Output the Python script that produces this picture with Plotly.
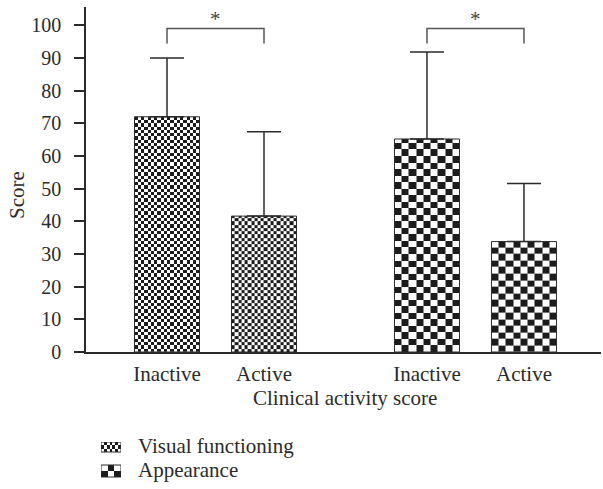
import numpy as np
import plotly.graph_objects as go

# ---------------- data ----------------
categories = ["Inactive", "Active"]
series_names = ["Visual functioning", "Appearance"]
visual_mean = [72.0, 41.6]
visual_sd = [18.0, 25.8]
appear_mean = [65.2, 33.8]
appear_sd = [26.6, 17.8]
sig_labels = ["*", "*"]
y_ticks = list(range(0, 101, 10))
x_title = "Clinical activity score"
y_title = "Score"

# ---------------- layout constants ----------------
W, H = 603, 489
FONT = "Liberation Serif"
INK = "#2b2b2b"
DARK = "#1c1c1c"


def px(x):
    return x / W


def py(y):
    return 1 - y / H


group_start = [0.0, 2.68]
bar_width = 0.67
checker_cols = [20, 9]      # cells across a bar, per series
checker_rowh = [1.0, 2.0]   # cell height in data units, per series
bracket_y = 99.0
bracket_drop = 4.6

fig = go.Figure()


def checker(x0, x1, ncols, y0, y1, row_h, xa="x", ya="y"):
    xe = np.linspace(x0, x1, ncols + 1)
    ye = np.arange(y0, y1, row_h)
    ye = np.append(ye, y1)
    nrows = len(ye) - 1
    z = np.add.outer(np.arange(nrows), np.arange(ncols)) % 2
    return go.Heatmap(x=xe, y=ye, z=z, colorscale=[[0, "white"], [1, DARK]],
                      zmin=0, zmax=1, showscale=False, hoverinfo="skip",
                      xaxis=xa, yaxis=ya)


series = [(visual_mean, visual_sd), (appear_mean, appear_sd)]
tickvals, ticktext = [], []
for g, (means, sds) in enumerate(series):
    xs = [group_start[g] + i for i in range(len(categories))]
    tickvals += xs
    ticktext += categories
    for x, m in zip(xs, means):
        fig.add_trace(checker(x - bar_width / 2, x + bar_width / 2,
                              checker_cols[g], 0, m, checker_rowh[g]))
    fig.add_trace(go.Bar(
        x=xs, y=means, width=bar_width, name=series_names[g],
        marker=dict(color="rgba(0,0,0,0)", line=dict(color=INK, width=1)),
        error_y=dict(type="data", array=sds, arrayminus=[0] * len(sds),
                     symmetric=False, color=INK, thickness=1.5, width=17),
        showlegend=False, hoverinfo="skip"))
    # significance bracket
    xa_, xb_ = xs[0], xs[1]
    fig.add_shape(type="path", xref="x", yref="y",
                  path=f"M {xa_},{bracket_y - bracket_drop} L {xa_},{bracket_y} "
                       f"L {xb_},{bracket_y} L {xb_},{bracket_y - bracket_drop}",
                  line=dict(color="#555555", width=1.5))
    fig.add_annotation(x=(xa_ + xb_) / 2, y=bracket_y, xref="x", yref="y",
                       text=sig_labels[g], showarrow=False, yanchor="bottom",
                       yshift=-4,
                       font=dict(family=FONT, size=21, color="#444444"))

# legend swatches (drawn with the same checker fills) on a small helper axis
# helper axis units are pixels (x: 0..20, y: 0..38 downwards)
swatches = [(7, 0, 10, 3.3), (3, 23, 35, 6)]
for ncols, y0, y1, rh in swatches:
    fig.add_trace(checker(0, 20, ncols, y0, y1, rh, "x2", "y2"))
    fig.add_shape(type="rect", xref="x2", yref="y2", x0=0, x1=20, y0=y0, y1=y1,
                  line=dict(color=INK, width=1))

legend_y = [446, 470]
for name, ly in zip(series_names, legend_y):
    fig.add_annotation(x=px(136), y=py(ly), xref="paper", yref="paper",
                       text=name, showarrow=False, xanchor="left", yanchor="middle",
                       font=dict(family=FONT, size=21, color=INK))

fig.add_annotation(x=px(345), y=py(398), xref="paper", yref="paper",
                   text=x_title, showarrow=False, xanchor="center", yanchor="middle",
                   font=dict(family=FONT, size=21, color=INK))
fig.add_annotation(x=px(17), y=py(195), xref="paper", yref="paper",
                   text=y_title, showarrow=False, textangle=-90,
                   xanchor="center", yanchor="middle",
                   font=dict(family=FONT, size=21, color=INK))

fig.update_layout(
    width=W, height=H, margin=dict(l=0, r=0, t=0, b=0),
    paper_bgcolor="white", plot_bgcolor="white",
    font=dict(family=FONT, size=20, color=INK),
    barmode="overlay", showlegend=False,
    xaxis=dict(domain=[px(86), px(601)], range=[-0.835, 4.474],
               tickvals=tickvals, ticktext=ticktext, ticks="",
               tickfont=dict(size=21),
               showline=True, linecolor=INK, linewidth=1.5,
               showgrid=False, zeroline=False, automargin=False,
               ticklabelstandoff=2),
    yaxis=dict(domain=[py(352), py(7)], range=[0, 105.6],
               tickvals=y_ticks, ticks="outside", ticklen=10, tickwidth=1.5,
               tickcolor=INK, showline=True, linecolor=INK, linewidth=1.5,
               showgrid=False, zeroline=False, automargin=False,
               ticklabelstandoff=9),
    xaxis2=dict(domain=[px(101), px(121)], range=[0, 20], visible=False,
                anchor="y2", fixedrange=True),
    yaxis2=dict(domain=[py(480), py(442)], range=[38, 0], visible=False,
                anchor="x2", fixedrange=True),
)

fig.write_html("out.html", config={"displayModeBar": False},
               post_script="document.body.style.margin='0';document.body.style.overflow='hidden';")
